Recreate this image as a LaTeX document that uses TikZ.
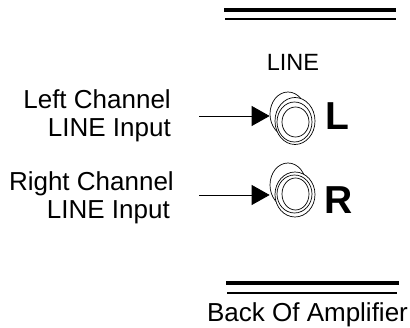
\documentclass[tikz,border=0pt]{standalone}
\usepackage{fontspec}
\setmainfont{Liberation Sans}
\usetikzlibrary{arrows.meta,positioning,shapes.geometric}
\begin{document}
\begin{tikzpicture}[x=1pt,y=-1pt,
	every node/.style={inner sep=0},
	label/.style={font=\fontsize{26}{28}\selectfont,align=right,anchor=east},
	letter/.style={font=\fontsize{39}{39}\selectfont\bfseries,anchor=base west},
	jack/.style={ellipse,draw,fill=white,line width=0.7pt},
	thickrule/.style={line width=3.6pt},
	thinrule/.style={line width=1.2pt},
	feed/.style={line width=0.8pt,-{Triangle[length=18pt,width=20pt]}}]
\useasboundingbox (0,0) rectangle (410,328);
% top rules
\coordinate (topA) at (224,10);
\coordinate (topB) at (396,10);
\coordinate (topC) at (225,19);
\coordinate (topD) at (396,19);
\draw[thickrule] (topA) -- (topB);
\draw[thinrule] (topC) -- (topD);
% left jack
\node[jack,minimum width=36pt,minimum height=44pt] (backL) at (288,114) {};
\node[jack,minimum width=40pt,minimum height=47pt] (outerL) at (295,121) {};
\node[jack,minimum width=35pt,minimum height=40pt] (midL) at (294.5,122) {};
\node[jack,minimum width=27pt,minimum height=30pt] (innerL) at (295.5,122) {};
% right jack
\node[jack,minimum width=36pt,minimum height=44pt] (backR) at (288,185) {};
\node[jack,minimum width=40pt,minimum height=45pt] (outerR) at (295,194.5) {};
\node[jack,minimum width=35pt,minimum height=38pt] (midR) at (294.5,194) {};
\node[jack,minimum width=27pt,minimum height=32pt] (innerR) at (295.5,194) {};
% text
\node[font=\fontsize{23.5}{24}\selectfont,anchor=base] (line) at (293,71) {LINE};
\node[letter] (letL) at (325,130) {L};
\node[letter] (letR) at (324,214) {R};
\node[label] (left) at (171,116) {Left Channel\\LINE Input};
\node[label] (right) at (174,198) {Right Channel\\LINE Input\kern4pt\null};
\node[font=\fontsize{26}{26}\selectfont,anchor=base] (back) at (307.5,322) {Back Of Amplifier};
% inputs
\coordinate (inL) at (199,116);
\coordinate (inR) at (199,195);
\draw[feed] (inL) -- (backL.west|-inL);
\draw[feed] (inR) -- (backR.west|-inR);
% bottom rules
\coordinate (botA) at (226,283);
\coordinate (botB) at (399,283);
\coordinate (botC) at (227,293);
\coordinate (botD) at (397,293);
\draw[thickrule] (botA) -- (botB);
\draw[thinrule] (botC) -- (botD);
\end{tikzpicture}
\end{document}
